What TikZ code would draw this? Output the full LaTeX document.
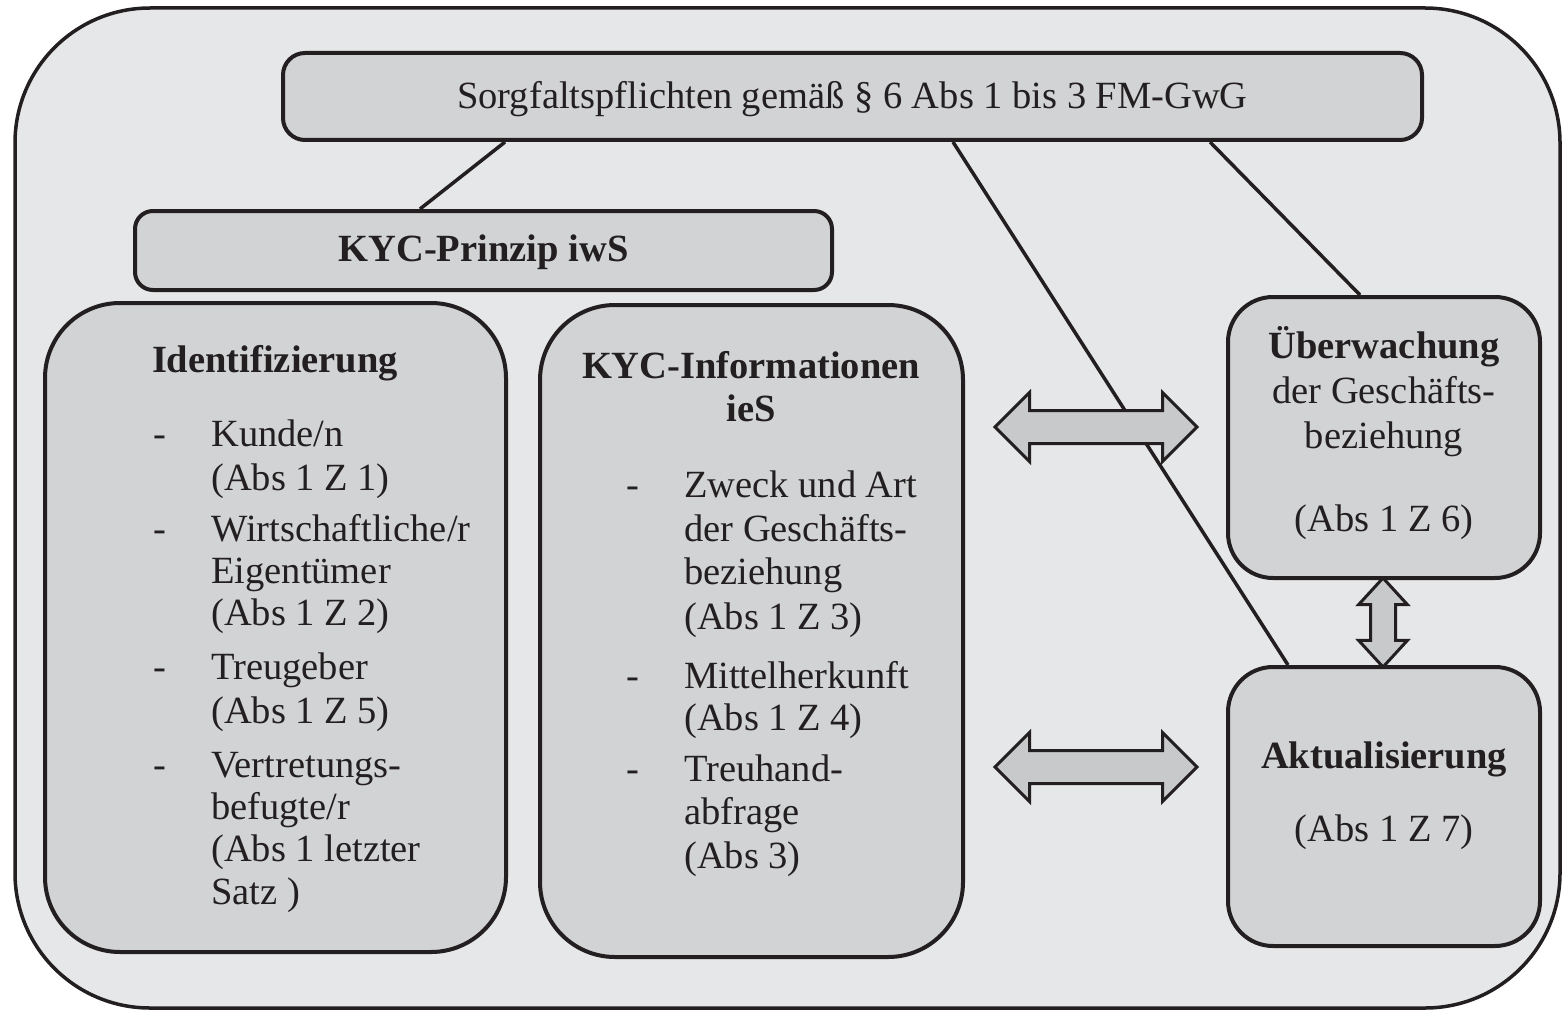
\documentclass[tikz,border=0pt]{standalone}
\usepackage{fontspec}
\setmainfont{Liberation Serif}
\usetikzlibrary{shapes.arrows}
\definecolor{outerbg}{HTML}{E6E7E8}
\definecolor{boxbg}{HTML}{D1D3D4}
\definecolor{arrbg}{HTML}{C8C9CB}
\definecolor{ink}{HTML}{231F20}
\begin{document}
\begin{tikzpicture}[x=1pt,y=-1pt,
  every node/.style={text=ink, font=\fontsize{38.5}{44}\selectfont, inner sep=0pt},
  outerbox/.style={draw=ink, line width=3.5pt, fill=outerbg, rectangle, rounded corners=135pt},
  box/.style={draw=ink, line width=4pt, fill=boxbg, rectangle},
  link/.style={draw=ink, line width=3.5pt},
  dblarrow/.style={double arrow, draw=ink, line width=3pt, fill=arrbg, double arrow tip angle=90, double arrow head indent=0pt},
  head/.style={anchor=mid, yshift=-9pt, font=\fontsize{38.5}{44}\selectfont\bfseries},
  txt/.style={anchor=mid, yshift=-9pt},
  item/.style={anchor=mid west, yshift=-9pt},
  bullet/.style={anchor=mid west, yshift=-9pt}
]
\useasboundingbox (0,0) rectangle (1562,1011);
\node[outerbox, minimum width=1545pt, minimum height=1000pt] (outer) at (787.5,508) {};

% boxes
\node[box, rounded corners=22pt, minimum width=1139pt, minimum height=87pt] (top) at (852.5,96.5) {};
\node[box, rounded corners=18pt, minimum width=697pt, minimum height=79pt] (kyc) at (483.5,250.5) {};
\node[box, rounded corners=75pt, minimum width=461pt, minimum height=649pt] (ident) at (275.5,627.5) {};
\node[box, rounded corners=75pt, minimum width=423pt, minimum height=652pt] (info) at (751.5,631) {};
\node[box, rounded corners=45pt, minimum width=312pt, minimum height=281pt] (ueb) at (1384,437.5) {};
\node[box, rounded corners=45pt, minimum width=312pt, minimum height=279pt] (akt) at (1384,806.5) {};

% connectors
\draw[link] ([xshift=-347.5pt]top.south) -- ([xshift=-63.5pt]kyc.north);
\draw[link] ([xshift=100.5pt]top.south) -- ([xshift=-96pt]akt.north);
\draw[link] ([xshift=357.5pt]top.south) -- ([xshift=-24pt]ueb.north);

% double arrows
\node[dblarrow, minimum height=202pt, inner xsep=0pt, inner ysep=15pt, double arrow head extend=18pt] (a1) at (1096,427) {};
\node[dblarrow, minimum height=202pt, inner xsep=0pt, inner ysep=15pt, double arrow head extend=18pt] (a2) at (1096,767) {};
\node[dblarrow, shape border rotate=90, minimum height=89pt, inner xsep=11pt, inner ysep=0pt, double arrow head extend=12pt, double arrow tip angle=85] (a3) at (1383,622.5) {};

% texts
\node[txt] (t0) at (852.5,97) {Sorgfaltspflichten gemäß § 6 Abs 1 bis 3 FM-GwG};
\node[head] (t1) at (483.5,250) {KYC-Prinzip iwS};

\node[head] (h1) at (275,361) {Identifizierung};
\node[bullet] (d11) at (153,435) {-};
\node[item] (i11) at (211,435) {Kunde/n};
\node[item] (i12) at (211,479) {(Abs 1 Z 1)};
\node[bullet] (d12) at (153,530) {-};
\node[item] (i13) at (211,530) {Wirtschaftliche/r};
\node[item] (i14) at (211,572) {Eigentümer};
\node[item] (i15) at (211,614) {(Abs 1 Z 2)};
\node[bullet] (d13) at (153,668) {-};
\node[item] (i16) at (211,668) {Treugeber};
\node[item] (i17) at (211,712) {(Abs 1 Z 5)};
\node[bullet] (d14) at (153,766) {-};
\node[item] (i18) at (211,766) {Vertretungs-};
\node[item] (i19) at (211,808) {befugte/r};
\node[item] (i1a) at (211,850) {(Abs 1 letzter};
\node[item] (i1b) at (211,893) {Satz )};

\node[head] (h2) at (751,367) {KYC-Informationen};
\node[head] (h2b) at (751,410) {ieS};
\node[bullet] (d21) at (626,486) {-};
\node[item] (i21) at (684,486) {Zweck und Art};
\node[item] (i22) at (684,530) {der Geschäfts-};
\node[item] (i23) at (684,573) {beziehung};
\node[item] (i24) at (684,618) {(Abs 1 Z 3)};
\node[bullet] (d22) at (626,677) {-};
\node[item] (i25) at (684,677) {Mittelherkunft};
\node[item] (i26) at (684,719) {(Abs 1 Z 4)};
\node[bullet] (d23) at (626,770) {-};
\node[item] (i27) at (684,770) {Treuhand-};
\node[item] (i28) at (684,813) {abfrage};
\node[item] (i29) at (684,857) {(Abs 3)};

\node[head] (h3) at (1384,347) {Überwachung};
\node[txt] (t31) at (1384,392) {der Geschäfts-};
\node[txt] (t32) at (1384,437) {beziehung};
\node[txt] (t33) at (1384,520) {(Abs 1 Z 6)};

\node[head] (h4) at (1384,757) {Aktualisierung};
\node[txt] (t41) at (1384,830) {(Abs 1 Z 7)};
\end{tikzpicture}
\end{document}
